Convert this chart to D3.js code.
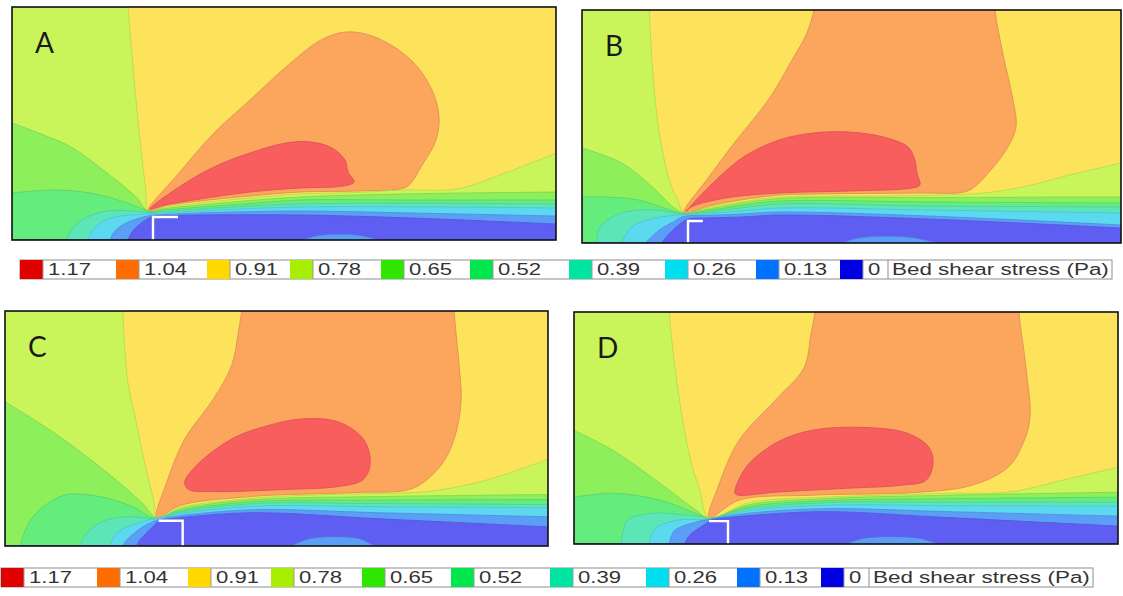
<!DOCTYPE html>
<html><head><meta charset="utf-8">
<script src="https://cdn.jsdelivr.net/npm/d3@7"></script>
<style>body{margin:0;background:#fff} svg{display:block}</style>
</head><body><svg id="c" width="1123" height="596"></svg>
<script>
// ---------------- DATA ----------------
const levels = ["1.17","1.04","0.91","0.78","0.65","0.52","0.39","0.26","0.13","0"];
const legendColors = ["#e00000","#ff6c00","#ffd800","#a8ee00","#2ee600","#00e64c","#00e6a2","#00dff0","#0072ff","#0000e2"];
const fieldColors  = ["#f85e5e","#fba55d","#fde35c","#c9f55b","#8def5b","#64ec7c","#5ce6b8","#5bd9ef","#5b9ef6","#5e5ff2"];
const panelLabels = ["A","B","C","D"];
const legendTitle = "Bed shear stress (Pa)";

// contour lines, grid units: x 0–108.8 downstream, y 0–46.6 from the bank
// ltXXX = upper edge of region with value below level; gtXXX = region above level
const A_lt091 = [[23.2,46.6],[24.0,37],[24.8,28],[25.6,20],[26.2,14.6],[26.8,9.5],[27.2,5.8],[30.6,6.5],[37.6,7.4],[47.6,8.4],[57.6,9.2],[69,9.5],[78.4,10],[89,10.2],[97.6,13],[108.8,17.4]];
const A_lt078 = [[0,23.4],[5.8,21.2],[11.8,18.6],[19,13.4],[24.8,8.6],[27.2,5.8],[30.6,6.3],[37.6,7.0],[47.6,7.9],[57.6,8.6],[78,9.2],[108.8,9.6]];
const A_lt065 = [[0,9.4],[8.4,10],[15.6,9.4],[21.2,8],[26.2,6.2],[27.4,5.7],[30.6,6.0],[37.6,6.6],[47.6,7.3],[57.6,8.0],[78,8.0],[108.8,8.0]];
const A_lt052 = [[10.8,0],[11.6,1.6],[14,4],[19,5.8],[26.2,5.6],[27.6,5.5],[30.6,5.7],[37.6,6.2],[57.6,7.2],[108.8,7.2]];
const A_lt039 = [[15.2,0],[16,1.8],[17.6,3.4],[20.6,4.6],[26.6,5.2],[27.8,5.3],[30.6,5.4],[37.6,5.8],[57.6,6.6],[108.8,6.4]];
const A_lt026 = [[19.6,0],[20.4,1.6],[22.4,3.2],[25.6,4.4],[27.6,4.9],[30.6,5.1],[37.6,5.4],[57.6,5.8],[80,5.4],[108.8,4.8]];
const A_lt013 = [[23.2,0],[24,1.6],[25.6,3.2],[27.4,4.4],[28.4,4.8],[33.2,4.9],[37.6,5.0],[57.6,5.0],[80,4.4],[108.8,3.2]];
const A_gt104 = [[27.2,5.8],[33.4,13.4],[40.4,21.4],[47.6,28],[54.8,34.6],[61.8,40],[66.8,41.6],[72.6,40.6],[79.8,36],[84,30],[85.4,24.6],[84.8,20],[81.8,14.6],[79.8,11.4],[78.4,10.4],[69,9.8],[57.6,9.6],[47.6,8.8],[37.6,7.8],[30.6,6.8]];
const A_gt117 = [[27.6,6.2],[33.4,10.6],[40.4,14.6],[47.6,17.4],[54.8,19.4],[59.8,19.6],[64,18.4],[66.6,16],[67.2,13.6],[68.4,11.6],[66.2,10.8],[57.6,10.4],[47.6,9.6],[37.6,8.2],[30.6,7.0]];
const A_patch = [[58.2,0],[61,0.8],[65.5,1.1],[70,0.8],[73.2,0]];
const A_groyne = [[33.2,4.6],[28.2,4.6],[28.2,0]];

const B_lt091 = [[13.6,46.6],[14.2,35.2],[15.6,22],[17.8,12],[19.4,8.4],[20.6,6.0],[25,7.0],[32,8.2],[40,9.2],[60,9.4],[72,9.6],[80,9.9],[89,11.2],[98,13.5],[108.8,16]];
const B_lt078 = [[0,19],[8,16],[14.2,11.2],[18.4,7.2],[20.6,6.0],[25,6.7],[32,7.9],[40,8.9],[70,9.1],[108.8,9.2]];
const B_lt065 = [[0,9.2],[4.4,9.2],[11.4,8.6],[17.8,6.6],[20.6,5.9],[25,6.4],[32,7.5],[40,8.4],[70,8.2],[108.8,8.0]];
const B_lt052 = [[3,0],[3.6,3.2],[8,6],[15,6.6],[20.6,5.8],[25,6.1],[32,7.0],[40,7.8],[70,7.4],[108.8,7.2]];
const B_lt039 = [[8,0],[10,3.2],[15,5],[20.4,5.7],[25,5.8],[32,6.4],[40,7.0],[70,6.6],[108.8,6.0]];
const B_lt026 = [[12.8,0],[15.6,2.6],[18.4,4.2],[20.4,5.3],[25,5.5],[32,5.8],[40,6.2],[70,5.4],[108.8,3.6]];
const B_lt013 = [[16,0],[17.8,2],[20,4],[21.4,4.8],[25,5.0],[32,5.2],[40,5.6],[70,4.8],[108.8,3.0]];
const B_gt104 = [[20.6,6.0],[25.6,13.2],[31.2,20.6],[37.6,28.6],[42.4,36.6],[45.4,42],[46.8,46.6],[47.2,50],[83.4,50],[83.4,46.6],[84.8,38.6],[87,28.6],[87.6,23.2],[85.6,18.6],[82,14],[79.2,11.2],[77.2,10.2],[68,10],[46.8,9.8],[40,9.6],[32,8.6],[25.6,7.4]];
const B_gt117 = [[21,6.3],[25.6,11.2],[32.6,17.2],[39.8,20.6],[46.8,22],[53.8,22.2],[60.8,21.2],[65.8,19.2],[67.2,16.6],[67.6,14],[68.2,11.6],[66.6,11],[53.8,10.4],[39.8,10],[29,9],[22,7.2]];
const B_patch = [[52.4,0],[56,1],[62,1.3],[67,1],[71.4,0]];
const B_groyne = [[24.4,4.4],[21.4,4.4],[21.4,0]];

const C_lt091 = [[23.6,46.6],[24.6,32.6],[26,26],[27.4,19.2],[28.8,13],[29.8,9],[30.4,5.6],[35,7.6],[50,9.5],[65,10.2],[75,10.4],[84.6,10.8],[92,12],[99,13.8],[108.8,17.2]];
const C_lt078 = [[0,28.6],[9.6,22.6],[20.4,14.6],[27.4,8.6],[30.4,5.6],[35,7.3],[50,9.2],[75,9.8],[108.8,10.2]];
const C_lt065 = [[3,0],[4,3],[5.6,5.8],[8.5,8.4],[12.4,10.2],[19,9.8],[25.6,7.8],[30.2,5.5],[35,7.0],[50,8.8],[75,9.1],[108.8,9.2]];
const C_lt052 = [[15,0],[15.8,1.8],[17,3.2],[20.4,5.2],[25.6,5.8],[30.2,5.4],[35,6.7],[50,8.4],[75,8.4],[108.8,8.2]];
const C_lt039 = [[21,0],[21.6,1.4],[22.4,2.6],[25.6,4.2],[29,5.2],[30.4,5.5],[35,6.4],[50,7.9],[75,7.8],[108.8,7.6]];
const C_lt026 = [[23.6,0],[24.2,1],[25,1.8],[27.6,3.8],[29.6,4.8],[31,5.3],[35,6.0],[50,7.2],[75,6.6],[108.8,5.8]];
const C_lt013 = [[26.4,0],[26.9,1],[27.6,1.8],[29.6,3.8],[30.8,4.9],[35,5.6],[50,6.6],[75,5.4],[108.8,3.8]];
const C_gt104 = [[30.4,5.6],[32.4,12.6],[36,21.2],[41.8,29.2],[45.4,35.8],[46.8,42.6],[47.4,46.6],[47.6,50],[90,50],[90,46.6],[91,35.8],[91.4,29.2],[90.4,22.6],[88.2,17.2],[84.6,13.2],[81,11.2],[70.4,10.6],[49,9.8],[35,8.0]];
const C_gt117 = [[36,12.6],[38.2,15.8],[45.4,21.2],[52.4,23.8],[59.6,25.2],[66.8,24.6],[71.8,21.2],[73.2,16.6],[71.8,13.2],[66.8,11.8],[56,11.2],[41.8,10.8],[36.8,11.2]];
const C_patch = [[57.4,0],[61,1.4],[66,1.8],[71,1.4],[74,0]];
const C_groyne = [[30.8,5.0],[35.6,5.0],[35.6,0]];

const D_lt091 = [[19,46.6],[20.2,35.4],[22.2,22.2],[23.8,15],[25.2,10.8],[27,5.2],[35,8.3],[50,9.4],[65,9.9],[75,10.2],[86.8,10.4],[92,11.4],[97.6,12.8],[108.8,15.4]];
const D_lt078 = [[0,22.8],[7.8,18.8],[17.2,12.2],[24.4,6.8],[27,5.2],[35,7.9],[50,9.1],[75,9.8],[108.8,10.4]];
const D_lt065 = [[0,9.4],[7.8,10.2],[17.2,8.8],[25.2,5.8],[27,5.1],[35,7.5],[50,8.7],[75,9.1],[108.8,9.4]];
const D_lt052 = [[9.4,0],[9.8,2.5],[10.8,4.8],[15.8,6.2],[20.5,6],[25.8,5.4],[27,5.1],[35,7.1],[50,8.3],[75,8.4],[108.8,8.4]];
const D_lt039 = [[15,0],[15.5,1.8],[16.6,3.4],[20.8,4.8],[27,5.0],[35,6.7],[50,7.8],[75,7.7],[108.8,7.6]];
const D_lt026 = [[19,0],[19.4,1.4],[20.2,2.8],[24.4,4.4],[26.8,4.9],[35,6.2],[50,7.1],[75,6.5],[108.8,5.6]];
const D_lt013 = [[22.2,0],[22.7,1.2],[23.6,2.2],[26.6,4.2],[27.4,4.8],[31,5.3],[35,5.7],[50,6.5],[75,5.3],[108.8,3.6]];
const D_gt104 = [[27,5.2],[28.8,11.4],[33,20.8],[40.2,28.8],[46,35.4],[47.4,42.2],[48.2,46.6],[48.4,50],[89,50],[89,46.6],[90.4,35.4],[91.2,25.4],[89.8,20.2],[86.8,15.4],[79.6,11.8],[69,10.4],[47.4,9.8],[33,8.8]];
const D_gt117 = [[32.2,10.2],[34.4,15.4],[40.2,20.2],[47.4,22.8],[58.2,23.4],[66.8,22.2],[71,19.4],[71.8,16.2],[70.4,12.8],[65.4,11.8],[54.6,11.2],[40.2,10.4],[33,9.8]];
const D_patch = [[54.6,0],[58,1.1],[63.6,1.4],[69,1.1],[72.6,0]];
const D_groyne = [[27,4.6],[30.8,4.6],[30.8,0]];

// ---------------- LAYOUT ----------------
const X_MAX = 108.8, Y_MAX = 46.6;
const panelBoxes = [[12,7,556,240],[582,10,1121,243],[5,311,548,546],[574,312,1118,544]];
const legendOrigins = [[20,260],[1,568]];
const legendOffsets = [0,96,187,270,361,450,549,645,736,820];
const legendTitleX = 868, legendW = 1092, legendH = 19, swatchW = 23;

const panelData = [
  {lt:[A_lt091,A_lt078,A_lt065,A_lt052,A_lt039,A_lt026,A_lt013], gt:[A_gt104,A_gt117], patch:A_patch, groyne:A_groyne},
  {lt:[B_lt091,B_lt078,B_lt065,B_lt052,B_lt039,B_lt026,B_lt013], gt:[B_gt104,B_gt117], patch:B_patch, groyne:B_groyne},
  {lt:[C_lt091,C_lt078,C_lt065,C_lt052,C_lt039,C_lt026,C_lt013], gt:[C_gt104,C_gt117], patch:C_patch, groyne:C_groyne},
  {lt:[D_lt091,D_lt078,D_lt065,D_lt052,D_lt039,D_lt026,D_lt013], gt:[D_gt104,D_gt117], patch:D_patch, groyne:D_groyne}
];

const svg = d3.select("#c");
const defs = svg.append("defs");
const openCurve = d3.curveCatmullRom.alpha(0.5);
const closedCurve = d3.curveCatmullRomClosed.alpha(0.5);

panelData.forEach((pd, i) => {
  const [x0,y0,x1,y1] = panelBoxes[i];
  const xs = d3.scaleLinear().domain([0,X_MAX]).range([x0,x1]);
  const ys = d3.scaleLinear().domain([0,Y_MAX]).range([y1,y0]);
  const lineOpen = d3.line().x(d=>xs(d[0])).y(d=>ys(d[1])).curve(openCurve);
  const lineClosed = d3.line().x(d=>xs(d[0])).y(d=>ys(d[1])).curve(closedCurve);
  const region = (pts, corners) => lineOpen(pts) + corners.map(c=>`L${xs(c[0])},${ys(c[1])}`).join("") + "Z";

  defs.append("clipPath").attr("id","clip"+i)
    .append("rect").attr("x",x0).attr("y",y0).attr("width",x1-x0).attr("height",y1-y0);
  const g = svg.append("g").attr("clip-path",`url(#clip${i})`);

  const stroke = c => d3.color(c).darker(0.35).formatHex();

  g.append("rect").attr("x",x0).attr("y",y0).attr("width",x1-x0).attr("height",y1-y0).attr("fill",fieldColors[2]);
  pd.gt.forEach((pts, k) => {
    const c = fieldColors[1-k];
    g.append("path").attr("d", lineClosed(pts)).attr("fill", c).attr("stroke", stroke(c)).attr("stroke-width",0.9);
  });
  pd.lt.forEach((pts, k) => {
    const c = fieldColors[3+k];
    const corners = k===0 ? [[X_MAX,0],[0,0],[0,Y_MAX]] : [[X_MAX,0],[0,0]];
    g.append("path").attr("d", region(pts, corners)).attr("fill", c).attr("stroke", stroke(c)).attr("stroke-width",0.8);
  });
  g.append("path").attr("d", lineOpen(pd.patch)+"Z").attr("fill", fieldColors[8]).attr("stroke", stroke(fieldColors[8])).attr("stroke-width",0.6);
  g.append("path").attr("d", d3.line().x(d=>xs(d[0])).y(d=>ys(d[1]))(pd.groyne))
    .attr("fill","none").attr("stroke","#ffffff").attr("stroke-width",2.4);

  svg.append("rect").attr("x",x0).attr("y",y0).attr("width",x1-x0).attr("height",y1-y0)
    .attr("fill","none").attr("stroke","#111").attr("stroke-width",1.6);
  svg.append("text").attr("x",x0+23).attr("y",y0+46).text(panelLabels[i])
    .attr("font-family","Lato, 'Open Sans', sans-serif").attr("font-size",28).attr("fill","#1a1a1a");
});

legendOrigins.forEach(([lx,ly]) => {
  const g = svg.append("g").attr("transform",`translate(${lx},${ly})`);
  g.append("rect").attr("x",0).attr("y",0).attr("width",legendW).attr("height",legendH)
    .attr("fill","#fff").attr("stroke","#8d8d8d").attr("stroke-width",1);
  levels.forEach((lab, i) => {
    const ox = legendOffsets[i];
    g.append("rect").attr("x",ox).attr("y",0).attr("width",swatchW).attr("height",legendH).attr("fill",legendColors[i]);
    g.append("line").attr("x1",ox+swatchW).attr("x2",ox+swatchW).attr("y1",0).attr("y2",legendH).attr("stroke","#9a9a9a");
    g.append("text").attr("transform",`translate(${ox+swatchW+5},15) scale(1.3,1)`).text(lab)
      .attr("font-family","'Liberation Sans', Arial, sans-serif").attr("font-size",17).attr("fill","#333");
  });
  g.append("line").attr("x1",legendTitleX).attr("x2",legendTitleX).attr("y1",0).attr("y2",legendH).attr("stroke","#8d8d8d");
  g.append("text").attr("transform",`translate(${legendTitleX+4},15) scale(1.32,1)`).text(legendTitle)
    .attr("font-family","'Liberation Sans', Arial, sans-serif").attr("font-size",17).attr("fill","#333");
});
</script></body></html>
